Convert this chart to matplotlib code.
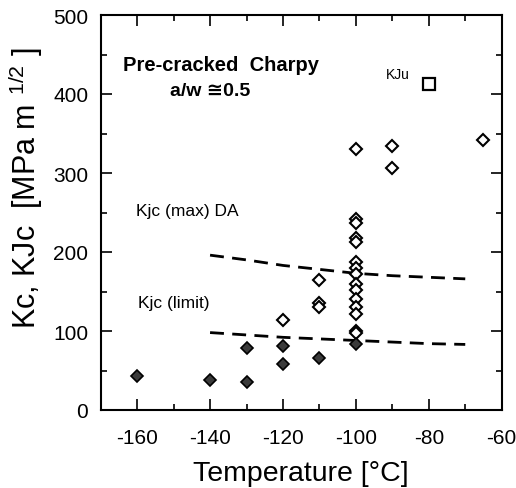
import matplotlib.pyplot as plt
from matplotlib.ticker import MultipleLocator

plt.rcParams['font.family'] = ['Liberation Sans', 'DejaVu Sans']
plt.rcParams['mathtext.fontset'] = 'custom'
plt.rcParams['mathtext.rm'] = 'Liberation Sans'
plt.rcParams['mathtext.default'] = 'regular'
plt.rcParams['axes.unicode_minus'] = False

# brittle (filled) Kc / KJc values
t_filled = [-160, -140, -130, -130, -120, -120, -110, -100]
k_filled = [43, 38, 79, 35, 81, 58, 66, 84]

# open diamonds
t_open = [-120, -110, -110, -110,
          -100, -100, -100, -100, -100, -100, -100, -100, -100, -100, -100, -100, -100, -100, -100,
          -90, -90, -65]
k_open = [114, 164, 136, 130,
          330, 242, 237, 218, 213, 187, 180, 172, 160, 152, 140, 130, 122, 100, 97,
          334, 306, 342]

# KJu
t_sq = [-80]
k_sq = [413]

# dashed curves
t_line = [-140, -130, -120, -110, -100, -90, -80, -70]
k_max = [196, 190, 183, 178, 173, 170, 168, 166]
k_limit = [98, 95, 92, 90, 88, 86, 84, 83]

fig = plt.figure(figsize=(5.16, 4.89), dpi=100)
ax = fig.add_axes([100.7/516, 78/489, 401/516, 395/489])

ax.plot(t_line, k_max, color='black', lw=2, dashes=(5, 3))
ax.plot(t_line, k_limit, color='black', lw=2, dashes=(5, 3))

ax.plot(t_open, k_open, 'D', ms=6.5, mfc='white', mec='black', mew=1.5, ls='none')
ax.plot(t_filled, k_filled, 'D', ms=6.5, mfc='#3a3a3a', mec='black', mew=1.2, ls='none')
ax.plot(t_sq, k_sq, 's', ms=8, mfc='white', mec='black', mew=1.6, ls='none')

ax.set_xlim(-170, -60)
ax.set_ylim(0, 500)
ax.xaxis.set_major_locator(MultipleLocator(20))
ax.xaxis.set_minor_locator(MultipleLocator(10))
ax.yaxis.set_major_locator(MultipleLocator(100))
ax.yaxis.set_minor_locator(MultipleLocator(50))
ax.tick_params(which='both', direction='in', top=True, right=True, labelsize=15, width=1.2)
ax.tick_params(which='major', length=8)
ax.tick_params(axis='x', which='major', pad=13)
ax.tick_params(axis='y', which='major', pad=9)
ax.tick_params(which='minor', length=4)
for s in ax.spines.values():
    s.set_linewidth(1.5)

ax.set_xlabel('Temperature [°C]', fontsize=20.5, labelpad=9)
# y label placed by hand, it sits above the axes centre in the original
fig.text(26/516, 1 - 188/489, 'Kc, KJc  [MPa m $^{1/2}$ ]', fontsize=22,
         rotation=90, ha='center', va='center')

ax.text(-163.8, 437, 'Pre-cracked  Charpy', fontsize=14.5, fontweight='bold', va='center')
ax.text(-140, 405, 'a/w ≅0.5', fontsize=14, fontweight='bold', va='center', ha='center')
ax.text(-91.7, 425, 'KJu', fontsize=10, va='center')
ax.text(-160.3, 253, 'Kjc (max) DA', fontsize=12.5, va='center')
ax.text(-159.7, 136, 'Kjc (limit)', fontsize=12.5, va='center')

plt.savefig('out.png', dpi=100)
